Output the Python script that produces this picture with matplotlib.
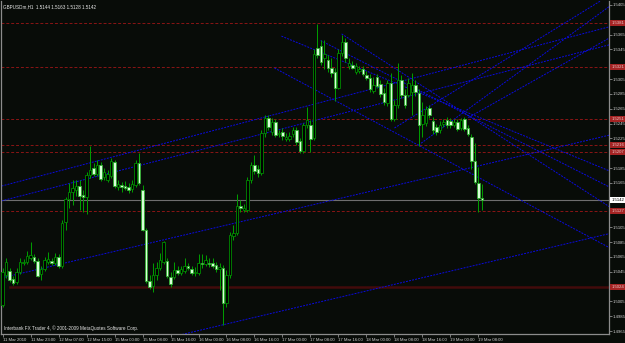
import numpy as np
import matplotlib
matplotlib.use('Agg')
import matplotlib.pyplot as plt

plt.rcParams['font.family'] = ['Liberation Sans', 'DejaVu Sans']

# GBPUSDm H1 bars, 11 Mar 2010 15:00 .. 19 Mar 2010 09:00 (one entry per bar)
opens = [
    1.5000, 1.5041, 1.5046, 1.5035, 1.5031, 1.5045, 1.5057, 1.5058, 1.5064, 1.5065,
    1.5060, 1.5042, 1.5049, 1.5058, 1.5060, 1.5057, 1.5065, 1.5053, 1.5112, 1.5143,
    1.5153, 1.5155, 1.5161, 1.5149, 1.5146, 1.5176, 1.5185, 1.5177, 1.5189, 1.5173,
    1.5169, 1.5174, 1.5193, 1.5160, 1.5162, 1.5161, 1.5160, 1.5157, 1.5162, 1.5192,
    1.5155, 1.5101, 1.5033, 1.5026, 1.5041, 1.5050, 1.5058, 1.5060, 1.5038, 1.5038,
    1.5047, 1.5043, 1.5046, 1.5053, 1.5049, 1.5043, 1.5043, 1.5057, 1.5056, 1.5057,
    1.5057, 1.5054, 1.5049, 1.5050, 1.5003, 1.5041, 1.5093, 1.5097, 1.5134, 1.5128,
    1.5128, 1.5169, 1.5189, 1.5184, 1.5178, 1.5232, 1.5253, 1.5234, 1.5247, 1.5231,
    1.5234, 1.5224, 1.5224, 1.5231, 1.5236, 1.5222, 1.5208, 1.5243, 1.5243, 1.5226,
    1.5347, 1.5349, 1.5334, 1.5331, 1.5320, 1.5315, 1.5293, 1.5340, 1.5355, 1.5323,
    1.5324, 1.5315, 1.5316, 1.5318, 1.5311, 1.5307, 1.5289, 1.5308, 1.5299, 1.5286,
    1.5273, 1.5300, 1.5251, 1.5270, 1.5304, 1.5284, 1.5284, 1.5288, 1.5297, 1.5286,
    1.5245, 1.5246, 1.5266, 1.5249, 1.5241, 1.5236, 1.5245, 1.5250, 1.5249, 1.5243,
    1.5247, 1.5239, 1.5251, 1.5239, 1.5227, 1.5195, 1.5165, 1.5144]
highs = [
    1.5050, 1.5064, 1.5050, 1.5039, 1.5050, 1.5064, 1.5062, 1.5073, 1.5085, 1.5069,
    1.5064, 1.5053, 1.5065, 1.5072, 1.5064, 1.5070, 1.5069, 1.5115, 1.5146, 1.5165,
    1.5169, 1.5169, 1.5169, 1.5155, 1.5180, 1.5215, 1.5192, 1.5196, 1.5193, 1.5185,
    1.5182, 1.5199, 1.5196, 1.5169, 1.5166, 1.5168, 1.5165, 1.5169, 1.5196, 1.5205,
    1.5162, 1.5104, 1.5041, 1.5057, 1.5058, 1.5070, 1.5087, 1.5064, 1.5045, 1.5058,
    1.5053, 1.5053, 1.5064, 1.5057, 1.5053, 1.5052, 1.5069, 1.5069, 1.5068, 1.5064,
    1.5064, 1.5058, 1.5057, 1.5054, 1.5047, 1.5099, 1.5108, 1.5150, 1.5142, 1.5137,
    1.5173, 1.5193, 1.5203, 1.5189, 1.5236, 1.5257, 1.5257, 1.5253, 1.5251, 1.5236,
    1.5239, 1.5232, 1.5234, 1.5241, 1.5241, 1.5226, 1.5246, 1.5268, 1.5250, 1.5345,
    1.5380, 1.5358, 1.5358, 1.5338, 1.5334, 1.5320, 1.5345, 1.5365, 1.5361, 1.5334,
    1.5330, 1.5327, 1.5323, 1.5322, 1.5316, 1.5312, 1.5308, 1.5312, 1.5304, 1.5293,
    1.5304, 1.5313, 1.5277, 1.5327, 1.5311, 1.5291, 1.5307, 1.5313, 1.5304, 1.5291,
    1.5274, 1.5269, 1.5270, 1.5254, 1.5245, 1.5249, 1.5251, 1.5254, 1.5253, 1.5251,
    1.5251, 1.5253, 1.5254, 1.5243, 1.5231, 1.5219, 1.5187, 1.5163]
lows = [
    1.4998, 1.5037, 1.5031, 1.5027, 1.5029, 1.5042, 1.5054, 1.5056, 1.5061, 1.5057,
    1.5038, 1.5034, 1.5046, 1.5056, 1.5054, 1.5054, 1.5050, 1.5050, 1.5101, 1.5131,
    1.5135, 1.5147, 1.5128, 1.5126, 1.5123, 1.5172, 1.5174, 1.5174, 1.5168, 1.5169,
    1.5166, 1.5172, 1.5158, 1.5155, 1.5153, 1.5155, 1.5151, 1.5153, 1.5160, 1.5162,
    1.5100, 1.5030, 1.5022, 1.5018, 1.5034, 1.5047, 1.5056, 1.5037, 1.5025, 1.5035,
    1.5041, 1.5041, 1.5043, 1.5047, 1.5041, 1.5039, 1.5041, 1.5050, 1.5053, 1.5052,
    1.5050, 1.5045, 1.5020, 1.4973, 1.4998, 1.5037, 1.5088, 1.5095, 1.5126, 1.5126,
    1.5126, 1.5165, 1.5177, 1.5173, 1.5176, 1.5227, 1.5236, 1.5230, 1.5227, 1.5227,
    1.5223, 1.5222, 1.5222, 1.5227, 1.5216, 1.5205, 1.5205, 1.5239, 1.5207, 1.5223,
    1.5334, 1.5324, 1.5318, 1.5315, 1.5308, 1.5276, 1.5291, 1.5336, 1.5328, 1.5319,
    1.5318, 1.5312, 1.5313, 1.5309, 1.5304, 1.5288, 1.5286, 1.5293, 1.5281, 1.5270,
    1.5269, 1.5249, 1.5249, 1.5266, 1.5280, 1.5266, 1.5281, 1.5257, 1.5282, 1.5215,
    1.5227, 1.5242, 1.5253, 1.5231, 1.5230, 1.5232, 1.5241, 1.5239, 1.5239, 1.5241,
    1.5235, 1.5236, 1.5235, 1.5228, 1.5184, 1.5164, 1.5126, 1.5128]
closes = [
    1.5045, 1.5058, 1.5034, 1.5030, 1.5045, 1.5058, 1.5058, 1.5066, 1.5068, 1.5060,
    1.5039, 1.5049, 1.5061, 1.5062, 1.5057, 1.5065, 1.5053, 1.5111, 1.5143, 1.5153,
    1.5158, 1.5161, 1.5147, 1.5146, 1.5176, 1.5182, 1.5177, 1.5189, 1.5170, 1.5180,
    1.5177, 1.5195, 1.5161, 1.5164, 1.5160, 1.5158, 1.5155, 1.5164, 1.5192, 1.5165,
    1.5101, 1.5033, 1.5025, 1.5041, 1.5050, 1.5061, 1.5085, 1.5039, 1.5029, 1.5047,
    1.5043, 1.5049, 1.5053, 1.5050, 1.5043, 1.5045, 1.5057, 1.5056, 1.5061, 1.5056,
    1.5053, 1.5049, 1.5052, 1.5003, 1.5041, 1.5095, 1.5097, 1.5134, 1.5131, 1.5131,
    1.5169, 1.5189, 1.5181, 1.5178, 1.5232, 1.5253, 1.5241, 1.5247, 1.5230, 1.5232,
    1.5228, 1.5227, 1.5228, 1.5236, 1.5220, 1.5208, 1.5243, 1.5250, 1.5224, 1.5339,
    1.5338, 1.5328, 1.5339, 1.5320, 1.5313, 1.5293, 1.5340, 1.5355, 1.5334, 1.5327,
    1.5320, 1.5322, 1.5319, 1.5312, 1.5307, 1.5292, 1.5297, 1.5296, 1.5285, 1.5274,
    1.5300, 1.5251, 1.5270, 1.5304, 1.5284, 1.5270, 1.5300, 1.5297, 1.5288, 1.5243,
    1.5257, 1.5264, 1.5257, 1.5236, 1.5234, 1.5243, 1.5247, 1.5243, 1.5243, 1.5247,
    1.5238, 1.5250, 1.5238, 1.5231, 1.5195, 1.5166, 1.5144, 1.5142]

# trend lines drawn on the chart: (bar, price, bar, price)
long_lines = [(0, 1.5161, 160, 1.5359), (0, 1.5141, 160, 1.5335),
              (0, 1.5037, 174, 1.5230), (51, 1.4960, 173, 1.5096)]
ray_lines = [(79.7, 1.5363, 174, 1.5180), (90.9, 1.5357, 174, 1.5158),
             (96.9, 1.5366, 174, 1.5131), (77.7, 1.5320, 174, 1.5076),
             (112, 1.5239, 171.4, 1.5412), (118.9, 1.5216, 173.4, 1.5403),
             (133.1, 1.5253, 174, 1.5362)]
level_lines = [1.5381, 1.5321, 1.5251, 1.5216, 1.5207, 1.5127]
support_level = 1.5024
bid = 1.5142

price_ticks = [1.5405, 1.5365, 1.5345, 1.5305, 1.5285, 1.5265, 1.5245, 1.5225,
               1.5185, 1.5165, 1.5105, 1.5085, 1.5065, 1.5045, 1.5005, 1.4985, 1.4965]
time_ticks = list(range(0, 137, 8))
time_labels = ['11 Mar 2010', '11 Mar 23:00', '12 Mar 07:00', '12 Mar 15:00',
               '15 Mar 00:00', '15 Mar 08:00', '15 Mar 16:00', '16 Mar 00:00',
               '16 Mar 08:00', '16 Mar 16:00', '17 Mar 00:00', '17 Mar 08:00',
               '17 Mar 16:00', '18 Mar 00:00', '18 Mar 08:00', '18 Mar 16:00',
               '19 Mar 00:00', '19 Mar 08:00']

bg = '#080c08'
fs = 3.1
fig = plt.figure(figsize=(6.25, 3.43), dpi=100, facecolor=bg)
ax = fig.add_axes([0.0024, 0.0248, 0.9725, 0.9723], facecolor=bg)

o = np.array(opens); h = np.array(highs); l = np.array(lows); c = np.array(closes)
x = np.arange(len(o))
up = c > o

# horizontal levels
for lv in level_lines:
    ax.axhline(lv, color='#8a1515', lw=0.7, ls=(0, (3, 2)), zorder=1)
ax.plot([2, 180], [support_level, support_level], color='#420b0b', lw=1.8, zorder=1)
ax.axhline(bid, color='#6e6e6e', lw=0.8, zorder=1)

# trend lines
for x1, p1, x2, p2 in long_lines:
    ax.axline((x1, p1), (x2, p2), color='#0a0ae0', lw=0.7, ls=(0, (2, 1.2)), zorder=2)
for x1, p1, x2, p2 in ray_lines:
    ax.plot([x1, x2], [p1, p2], color='#0a0ae0', lw=0.7, ls=(0, (2, 1.2)), zorder=2)

# candles
ax.vlines(x, l, h, color='#00a000', lw=0.7, zorder=3)
body_lo = np.minimum(o, c)
body_h = np.abs(c - o)
ax.bar(x[up], body_h[up], bottom=body_lo[up], width=0.66, color='#000000',
       edgecolor='#008a00', lw=0.6, zorder=4)
ax.bar(x[~up], body_h[~up], bottom=body_lo[~up], width=0.66, color='#d8ffd8',
       edgecolor='#30b030', lw=0.6, zorder=4)

ax.set_xlim(-0.3, 173.4)
ax.set_ylim(1.49603, 1.54104)

# axes look
for s in ['left', 'bottom', 'right']:
    ax.spines[s].set_color('#8c8c8c')
    ax.spines[s].set_linewidth(0.9)
ax.spines['top'].set_visible(False)
ax.yaxis.tick_right()
ax.set_yticks(price_ticks)
ax.set_yticklabels(['%.4f' % p for p in price_ticks])
ax.set_xticks(time_ticks)
ax.set_xticklabels(time_labels, ha='left')
ax.tick_params(axis='y', colors='#8c8c8c', labelcolor='#d0d0d0', labelsize=fs,
               length=2, width=0.6, pad=0.6)
ax.tick_params(axis='x', colors='#8c8c8c', labelcolor='#d0d0d0', labelsize=fs,
               length=2, width=0.6, pad=0.6)

# price tags on the right scale
for lv in level_lines + [support_level]:
    ax.text(1.003, lv, '%.4f' % lv, transform=ax.get_yaxis_transform(), fontsize=fs,
            color='#e8c8c8', va='center', ha='left', clip_on=False, zorder=6,
            bbox=dict(boxstyle='square,pad=0.25', fc='#a52424', ec='none'))
ax.text(1.003, bid, '%.4f' % bid, transform=ax.get_yaxis_transform(), fontsize=fs,
        color='#000000', va='center', ha='left', clip_on=False, zorder=6,
        bbox=dict(boxstyle='square,pad=0.25', fc='#ffffff', ec='none'))

ax.text(0.003, 0.984, 'GBPUSDm,H1  %.4f %.4f %.4f %.4f' % (o[-1], h[-1], l[-1], c[-1]),
        transform=ax.transAxes, fontsize=3.3, color='#e8e8e8', va='center', ha='left')
ax.text(0.004, 0.02, 'Interbank FX Trader 4, \u00a9 2001-2009 MetaQuotes Software Corp.',
        transform=ax.transAxes, fontsize=3.3, color='#e8e8e8', va='center', ha='left')

fig.savefig('out.png', dpi=100, facecolor=bg)
